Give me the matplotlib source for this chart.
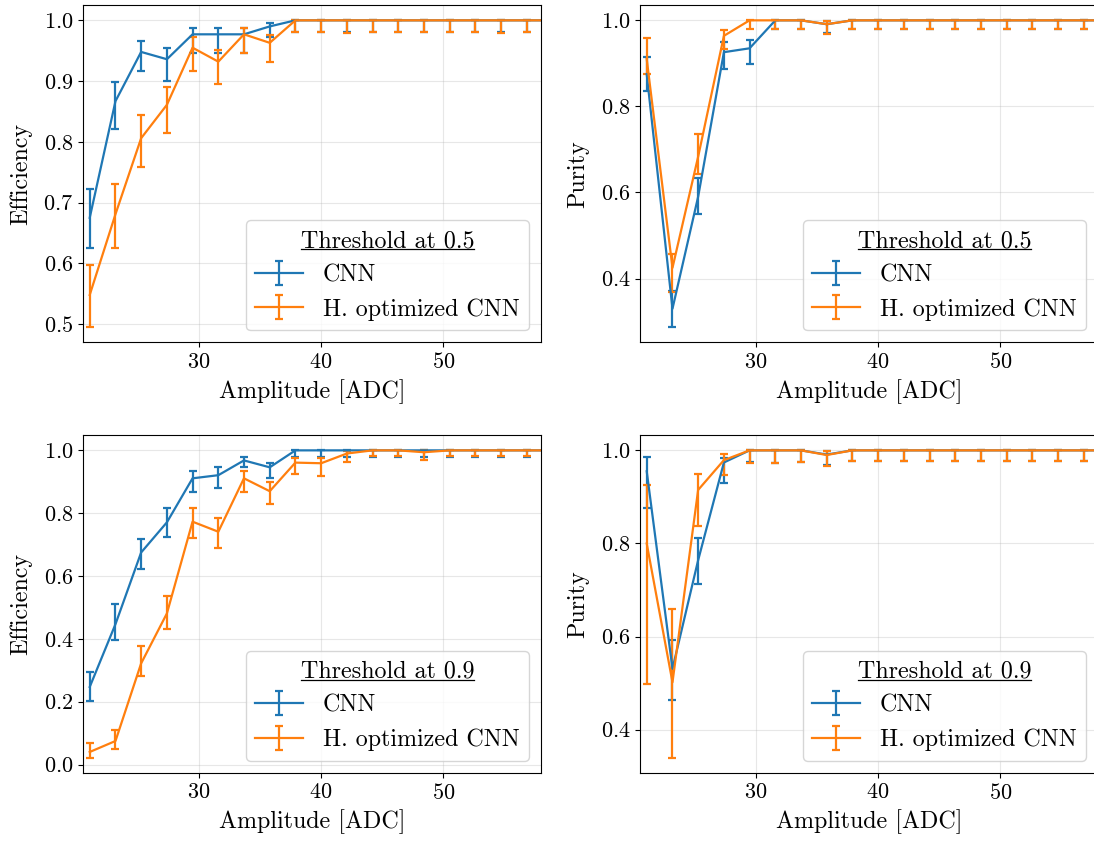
import matplotlib
matplotlib.use("Agg")
import matplotlib.pyplot as plt
from matplotlib.lines import Line2D
import numpy as np

plt.rcParams["font.family"] = "serif"
plt.rcParams["font.serif"] = ["cmr10"]
plt.rcParams["mathtext.fontset"] = "cm"
plt.rcParams["axes.formatter.use_mathtext"] = True
plt.rcParams["axes.unicode_minus"] = False

# Bin centres of the amplitude histogram [ADC]
amplitude = [21.05, 23.16, 25.26, 27.37, 29.47, 31.58, 33.68, 35.79, 37.89, 40.00,
             42.11, 44.21, 46.32, 48.42, 50.53, 52.63, 54.74, 56.84, 58.95]

series_labels = ["CNN", "H. optimized CNN"]
thresholds = ["0.5", "0.9"]

# Efficiency, threshold 0.5
eff05_cnn = [0.675, 0.867, 0.948, 0.936, 0.977, 0.977, 0.977, 0.990, 1.0, 1.0,
             1.0, 1.0, 1.0, 1.0, 1.0, 1.0, 1.0, 1.0, 1.0]
eff05_cnn_lo = [0.626, 0.821, 0.916, 0.900, 0.946, 0.946, 0.946, 0.973, 0.981, 0.981,
                0.981, 0.981, 0.981, 0.981, 0.981, 0.981, 0.981, 0.981, 0.981]
eff05_cnn_hi = [0.722, 0.899, 0.966, 0.954, 0.987, 0.987, 0.987, 0.996, 1.0, 1.0,
                1.0, 1.0, 1.0, 1.0, 1.0, 1.0, 1.0, 1.0, 1.0]
eff05_opt = [0.548, 0.681, 0.806, 0.861, 0.955, 0.932, 0.977, 0.963, 1.0, 1.0,
             1.0, 1.0, 1.0, 1.0, 1.0, 1.0, 1.0, 1.0, 1.0]
eff05_opt_lo = [0.495, 0.626, 0.758, 0.814, 0.917, 0.895, 0.946, 0.932, 0.981, 0.980,
                0.979, 0.980, 0.980, 0.980, 0.980, 0.980, 0.979, 0.980, 0.980]
eff05_opt_hi = [0.597, 0.730, 0.844, 0.891, 0.972, 0.952, 0.987, 0.976, 1.0, 1.0,
                1.0, 1.0, 1.0, 1.0, 1.0, 1.0, 1.0, 1.0, 1.0]

# Purity, threshold 0.5
pur05_cnn = [0.875, 0.330, 0.590, 0.926, 0.935, 1.0, 1.0, 0.991, 1.0, 1.0,
             1.0, 1.0, 1.0, 1.0, 1.0, 1.0, 1.0, 1.0, 1.0]
pur05_cnn_lo = [0.836, 0.287, 0.550, 0.886, 0.898, 0.980, 0.980, 0.970, 0.980, 0.980,
                0.980, 0.980, 0.980, 0.980, 0.980, 0.980, 0.980, 0.980, 0.980]
pur05_cnn_hi = [0.914, 0.370, 0.633, 0.950, 0.954, 1.0, 1.0, 0.998, 1.0, 1.0,
                1.0, 1.0, 1.0, 1.0, 1.0, 1.0, 1.0, 1.0, 1.0]
pur05_opt = [0.910, 0.425, 0.683, 0.964, 1.0, 1.0, 1.0, 0.991, 1.0, 1.0,
             1.0, 1.0, 1.0, 1.0, 1.0, 1.0, 1.0, 1.0, 1.0]
pur05_opt_lo = [0.875, 0.369, 0.644, 0.933, 0.980, 0.980, 0.980, 0.969, 0.980, 0.980,
                0.979, 0.980, 0.980, 0.980, 0.980, 0.980, 0.980, 0.980, 0.980]
pur05_opt_hi = [0.958, 0.456, 0.735, 0.978, 1.0, 1.0, 1.0, 0.999, 1.0, 1.0,
                1.0, 1.0, 1.0, 1.0, 1.0, 1.0, 1.0, 1.0, 1.0]

# Efficiency, threshold 0.9
eff09_cnn = [0.247, 0.447, 0.675, 0.771, 0.911, 0.921, 0.968, 0.946, 1.0, 1.0,
             1.0, 1.0, 1.0, 1.0, 1.0, 1.0, 1.0, 1.0, 1.0]
eff09_cnn_lo = [0.202, 0.396, 0.621, 0.725, 0.868, 0.879, 0.946, 0.913, 0.978, 0.978,
                0.980, 0.980, 0.980, 0.980, 0.980, 0.980, 0.980, 0.980, 0.980]
eff09_cnn_hi = [0.294, 0.511, 0.718, 0.815, 0.935, 0.947, 0.980, 0.961, 1.0, 1.0,
                1.0, 1.0, 1.0, 1.0, 1.0, 1.0, 1.0, 1.0, 1.0]
eff09_opt = [0.040, 0.075, 0.322, 0.481, 0.773, 0.741, 0.911, 0.870, 0.961, 0.959,
             0.990, 1.0, 1.0, 0.994, 1.0, 1.0, 1.0, 1.0, 1.0]
eff09_opt_lo = [0.022, 0.049, 0.282, 0.430, 0.720, 0.688, 0.866, 0.829, 0.924, 0.919,
                0.962, 0.982, 0.982, 0.969, 0.982, 0.982, 0.982, 0.982, 0.982]
eff09_opt_hi = [0.070, 0.111, 0.378, 0.536, 0.817, 0.786, 0.934, 0.900, 0.975, 0.975,
                0.999, 1.0, 1.0, 1.0, 1.0, 1.0, 1.0, 1.0, 1.0]

# Purity, threshold 0.9
pur09_cnn = [0.955, 0.531, 0.764, 0.974, 1.0, 1.0, 1.0, 0.991, 1.0, 1.0,
             1.0, 1.0, 1.0, 1.0, 1.0, 1.0, 1.0, 1.0, 1.0]
pur09_cnn_lo = [0.877, 0.464, 0.714, 0.929, 0.975, 0.973, 0.975, 0.968, 0.978, 0.978,
                0.978, 0.978, 0.978, 0.978, 0.978, 0.978, 0.978, 0.978, 0.978]
pur09_cnn_hi = [0.985, 0.592, 0.811, 0.984, 1.0, 1.0, 1.0, 0.999, 1.0, 1.0,
                1.0, 1.0, 1.0, 1.0, 1.0, 1.0, 1.0, 1.0, 1.0]
pur09_opt = [0.800, 0.502, 0.915, 0.979, 1.0, 1.0, 1.0, 0.990, 1.0, 1.0,
             1.0, 1.0, 1.0, 1.0, 1.0, 1.0, 1.0, 1.0, 1.0]
pur09_opt_lo = [0.499, 0.340, 0.838, 0.948, 0.972, 0.972, 0.975, 0.966, 0.978, 0.978,
                0.978, 0.978, 0.978, 0.978, 0.978, 0.978, 0.978, 0.978, 0.978]
pur09_opt_hi = [0.925, 0.659, 0.949, 0.992, 1.0, 1.0, 1.0, 0.999, 1.0, 1.0,
                1.0, 1.0, 1.0, 1.0, 1.0, 1.0, 1.0, 1.0, 1.0]

panels = [
    # (axes rect in pixels: left, top, right, bottom), ylabel, threshold, series
    ((83, 5, 541, 342.5), "Efficiency", thresholds[0],
     [(eff05_cnn, eff05_cnn_lo, eff05_cnn_hi), (eff05_opt, eff05_opt_lo, eff05_opt_hi)]),
    ((640, 5, 1098, 342.5), "Purity", thresholds[0],
     [(pur05_cnn, pur05_cnn_lo, pur05_cnn_hi), (pur05_opt, pur05_opt_lo, pur05_opt_hi)]),
    ((83, 435, 541, 773), "Efficiency", thresholds[1],
     [(eff09_cnn, eff09_cnn_lo, eff09_cnn_hi), (eff09_opt, eff09_opt_lo, eff09_opt_hi)]),
    ((640, 435, 1098, 773), "Purity", thresholds[1],
     [(pur09_cnn, pur09_cnn_lo, pur09_cnn_hi), (pur09_opt, pur09_opt_lo, pur09_opt_hi)]),
]

W, H = 1094, 846
fig = plt.figure(figsize=(W / 100, H / 100), dpi=100)
colors = ["#1f77b4", "#ff7f0e"]
x = np.array(amplitude)
fs = 17.3

legends = []
for (l, t, r, b), ylabel, thr, series in panels:
    ax = fig.add_axes([l / W, 1 - b / H, (r - l) / W, (b - t) / H])
    for (vals, lo, hi), lab, c in zip(series, series_labels, colors):
        y = np.array(vals)
        yerr = np.vstack([y - np.array(lo), np.array(hi) - y])
        ax.errorbar(x, y, yerr=yerr, color=c, lw=1.6, elinewidth=1.6,
                    capsize=2.6, capthick=1.6, label=lab)
    ax.set_xlim(20.5, 58.0)
    ax.set_xticks([30, 40, 50])
    ax.grid(True, color="#b0b0b0", alpha=0.3, lw=0.8)
    ax.set_axisbelow(True)
    ax.tick_params(labelsize=16)
    ax.set_xlabel("Amplitude [ADC]", fontsize=fs, labelpad=5)
    ax.set_ylabel(ylabel, fontsize=fs, labelpad=8)
    leg = ax.legend(loc="lower right", fontsize=fs, title=f"Threshold at {thr}",
                    title_fontsize=fs, handletextpad=0.8)
    legends.append(leg)

# underline each legend title
fig.canvas.draw()
renderer = fig.canvas.get_renderer()
inv = fig.transFigure.inverted()
for leg in legends:
    bb = leg.get_title().get_window_extent(renderer)
    (x0, y0), (x1, _) = inv.transform([[bb.x0, bb.y0], [bb.x1, bb.y1]])
    ybase = y0 + 3.0 / H
    fig.add_artist(Line2D([x0, x1], [ybase, ybase], transform=fig.transFigure,
                          color="black", lw=0.9))

fig.savefig("out.png", dpi=100)
